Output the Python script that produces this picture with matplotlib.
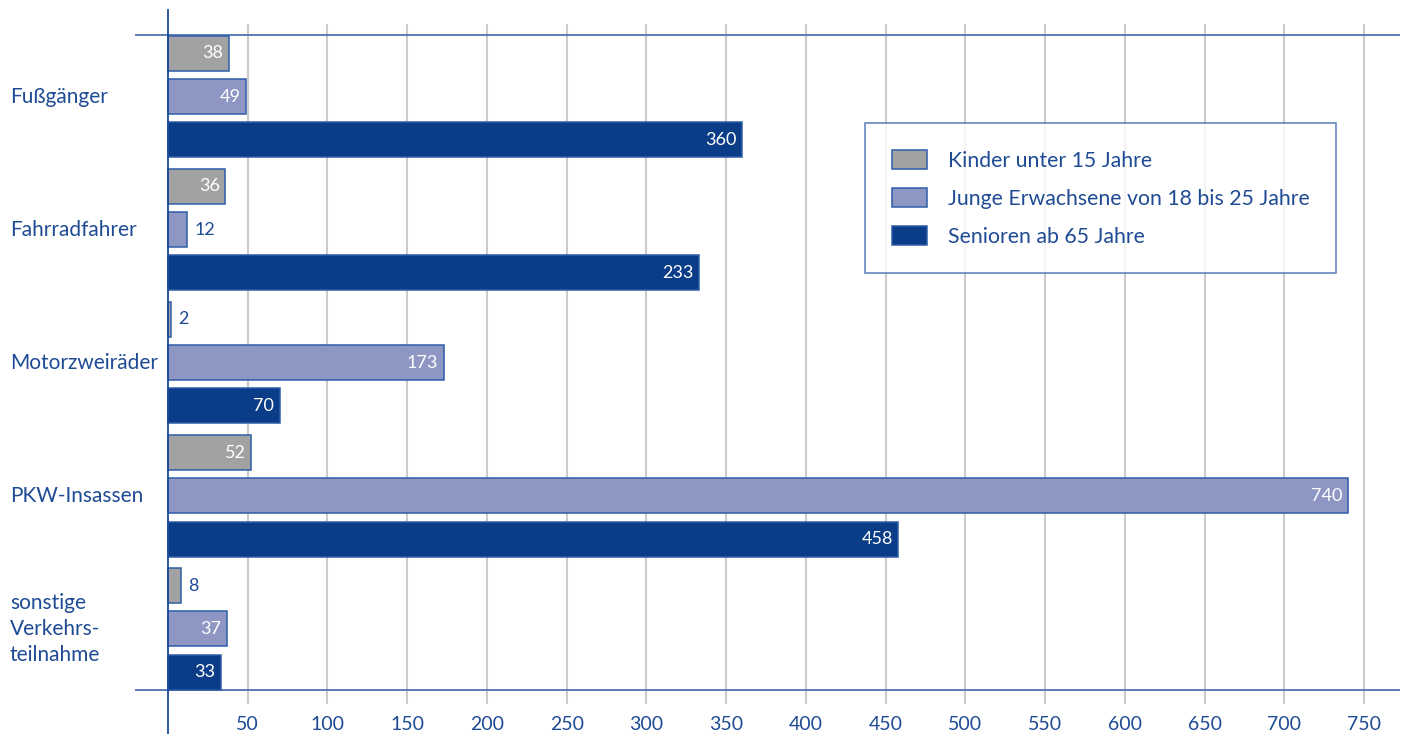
import numpy as np
import matplotlib.pyplot as plt
from matplotlib.transforms import blended_transform_factory

plt.rcParams['font.family'] = ['Lato', 'DejaVu Sans']

# data
categories = ['Fußgänger', 'Fahrradfahrer', 'Motorzweiräder', 'PKW-Insassen',
              'sonstige\nVerkehrs-\nteilnahme']
series = ['Kinder unter 15 Jahre', 'Junge Erwachsene von 18 bis 25 Jahre',
          'Senioren ab 65 Jahre']
kinder = [38, 36, 2, 52, 8]
junge = [49, 12, 173, 740, 37]
senioren = [360, 333, 70, 458, 33]   # bar lengths as drawn
senioren_labels = ['360', '233', '70', '458', '33']   # labels as printed
xticks = [50, 100, 150, 200, 250, 300, 350, 400, 450, 500, 550, 600, 650, 700, 750]

colors = ['#A2A2A4', '#8E96C4', '#0A3C87']
text_blue = '#1E4B94'
edge_blue = '#2D5DA8'

W, H = 1407, 734
fig = plt.figure(figsize=(W / 100, H / 100), dpi=100)
ax = fig.add_axes([135 / W, 1 - 704 / H, 1265 / W, 680 / H])

y = np.arange(len(categories))
offsets = [-0.325, 0, 0.325]
bar_h = 0.263
values = [kinder, junge, senioren]
labels = [[str(v) for v in kinder], [str(v) for v in junge], senioren_labels]

for k in range(3):
    bars = ax.barh(y + offsets[k], values[k], height=bar_h, color=colors[k],
                   edgecolor=edge_blue, linewidth=1.1, label=series[k], zorder=3)
    for b, v, lab in zip(bars, values[k], labels[k]):
        yc = b.get_y() + b.get_height() / 2
        if v < 20:
            ax.annotate(lab, (v, yc), xytext=(5, 0), textcoords='offset points',
                        ha='left', va='center', color=text_blue, fontsize=13, zorder=4)
        else:
            ax.annotate(lab, (v, yc), xytext=(-4, 0), textcoords='offset points',
                        ha='right', va='center', color='white', fontsize=13, zorder=4)

ax.set_xlim(-20.7, 772.6)
ax.set_ylim(4.564, -0.545)
ax.set_yticks([])
ax.set_xticks(xticks)
ax.set_xticklabels([str(t) for t in xticks], color=text_blue, fontsize=14)
ax.tick_params(axis='x', length=0, pad=9)
for s in ax.spines.values():
    s.set_visible(False)
ax.grid(axis='x', color='#CBCBCB', linewidth=1.5, zorder=0)

# frame lines
ax.axhline(-0.462, color='#4D72B0', linewidth=1.3, zorder=2)
ax.axhline(4.458, color='#4D72B0', linewidth=1.3, zorder=2)
ax.axvline(0, ymin=-0.044, ymax=1.0206, color='#1A4A9A', linewidth=1.3,
           clip_on=False, zorder=5)

# category labels
trans = blended_transform_factory(fig.transFigure, ax.transData)
for i, c in enumerate(categories):
    ax.text(10 / W, i, c, transform=trans, ha='left', va='center',
            color=text_blue, fontsize=15, linespacing=1.4)

leg = fig.legend(loc='upper left', bbox_to_anchor=(865 / W, 1 - 123 / H),
                 fontsize=15.3, frameon=True, fancybox=False, edgecolor=edge_blue,
                 handlelength=1.65, handleheight=1.05, handletextpad=1.0,
                 labelspacing=0.8, borderpad=1.25, borderaxespad=0)
leg.get_frame().set_linewidth(1.1)
for t in leg.get_texts():
    t.set_color(text_blue)

fig.savefig('out.png', dpi=100)
